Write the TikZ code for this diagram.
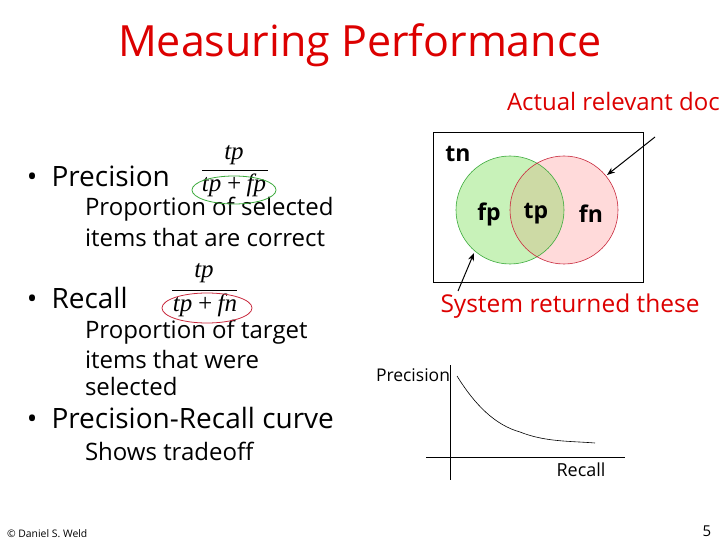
\documentclass[tikz,border=0pt]{standalone}
\usepackage{fontspec}
\setmainfont{Open Sans}
\newfontfamily\mathserif{Liberation Serif}
\usetikzlibrary{arrows.meta}
\definecolor{titlered}{RGB}{220,0,0}
\definecolor{gfill}{RGB}{200,242,185}
\definecolor{rfill}{RGB}{255,218,218}
\definecolor{ofill}{RGB}{205,218,165}
\definecolor{gline}{RGB}{60,170,60}
\definecolor{rline}{RGB}{200,40,60}
\begin{document}
\begin{tikzpicture}[x=1pt,y=-1pt,
  every node/.style={inner sep=0pt, outer sep=0pt},
  bigtxt/.style={font=\fontsize{28}{32}\selectfont, anchor=west},
  subtxt/.style={font=\fontsize{24}{28}\selectfont, anchor=west, align=left},
  frac/.style={font=\fontsize{25}{27}\selectfont\mathserif\itshape},
  venntxt/.style={font=\fontsize{23}{26}\selectfont\bfseries},
  arr/.style={-{Stealth[length=8pt,width=6pt]}, line width=1pt}]
\useasboundingbox (0,0) rectangle (720,540);
% title
\node[font=\fontsize{43}{48}\selectfont, text=titlered] (title) at (360,45) {Measuring Performance};
% left text
\node[bigtxt] (bp) at (27,176) {•\hspace{14pt}Precision};
\node[subtxt] (sp1) at (85,209) {Proportion of selected};
\node[subtxt] (sp2) at (85,237) {items that are correct};
\node[bigtxt] (br) at (27,298) {•\hspace{14pt}Recall};
\node[subtxt] (sr1) at (85,332) {Proportion of target};
\node[subtxt] (sr2) at (85,359) {items that were};
\node[subtxt] (sr3) at (85,386) {selected};
\node[bigtxt] (bc) at (27,418) {•\hspace{14pt}Precision-Recall curve};
\node[subtxt] (sc) at (85,451) {Shows tradeoff};
% fractions
\node[frac] (pn) at (234,155) {tp};
\draw[line width=0.8pt] (202,170) coordinate (pl1) -- (268,170) coordinate (pl2);
\node[frac] (pd) at (234,185) {tp\,+\,fp};
\draw[gline, line width=0.8pt] (234,190) ellipse [x radius=42, y radius=14];
\node[frac] (rn) at (204,273) {tp};
\draw[line width=0.8pt] (172,290) coordinate (rl1) -- (237,290) coordinate (rl2);
\node[frac] (rd) at (205,305) {tp\,+\,fn};
\draw[rline, line width=0.8pt] (207,308) ellipse [x radius=45, y radius=15];
% venn
\node[font=\fontsize{24}{28}\selectfont, text=titlered, anchor=west] (actual) at (507,102) {Actual relevant docs};
\draw[line width=0.8pt] (433,132) rectangle (643,282);
\fill[gfill] (510,210) circle (54);
\fill[rfill] (564,210) circle (54);
\begin{scope}
\clip (510,210) circle (54);
\fill[ofill] (564,210) circle (54);
\end{scope}
\draw[gline, line width=0.6pt] (510,210) circle (54);
\draw[rline, line width=0.6pt] (564,210) circle (54);
\node[venntxt] (tn) at (458,154) {tn};
\node[venntxt] (fp) at (489,214) {fp};
\node[venntxt] (tp) at (536,214) {tp};
\node[venntxt] (fn) at (591,214) {fn};
\coordinate (a1s) at (655,137);
\coordinate (a1e) at (607,175);
\draw[arr] (a1s) -- (a1e);
\coordinate (a2s) at (458,291);
\coordinate (a2e) at (474,253);
\draw[arr] (a2s) -- (a2e);
\node[font=\fontsize{24.5}{28}\selectfont, text=titlered] (sys) at (570,306) {System returned these};
% plot
\draw[line width=0.6pt] (450,365) coordinate (ya) -- (450,480) coordinate (yb);
\draw[line width=0.6pt] (426,457) coordinate (xa) -- (625,457) coordinate (xb);
\draw[line width=0.6pt] (457,376) .. controls (475,405) and (495,425) .. (520,432) .. controls (545,442) and (570,441) .. (595,443);
\node[font=\fontsize{17.5}{20}\selectfont, anchor=east] (prec) at (450,375) {Precision};
\node[font=\fontsize{18}{20}\selectfont] (rec) at (581,470) {Recall};
% footer
\node[font=\fontsize{10.4}{12}\selectfont, anchor=west] (copy) at (7,534) {© Daniel S. Weld};
\node[font=\fontsize{15}{17}\selectfont] (pg) at (707,531) {5};
\end{tikzpicture}
\end{document}
